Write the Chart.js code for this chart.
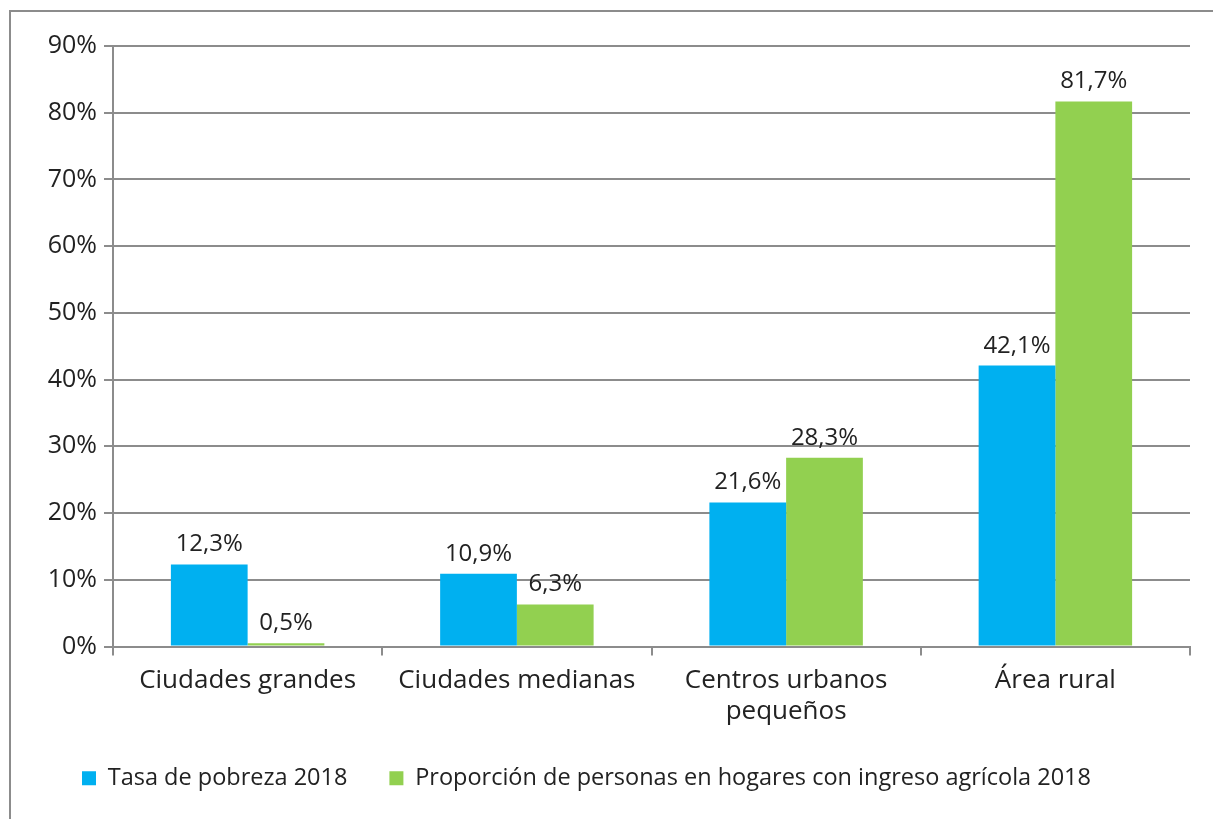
<!DOCTYPE html>
<html>
<head>
<meta charset="utf-8">
<script src="https://cdn.jsdelivr.net/npm/chart.js@4/dist/chart.umd.min.js"></script>
<style>
  body { margin: 0; background: #fff; }
  #frame {
    position: absolute; left: 9px; top: 10px; width: 1204px; height: 809px;
    border-left: 2px solid #8c8c8c; border-top: 2px solid #8c8c8c;
  }
</style>
</head>
<body>
<div id="frame"><canvas id="myChart" width="1202" height="807"></canvas></div>
<script>
const categorias = ['Ciudades grandes', 'Ciudades medianas', ['Centros urbanos', 'pequeños'], 'Área rural']
const pobreza = [12.3, 10.9, 21.6, 42.1]
const agricola = [0.5, 6.3, 28.3, 81.7]
const series = ['Tasa de pobreza 2018', 'Proporción de personas en hogares con ingreso agrícola 2018']

const fuente = '"Open Sans", sans-serif'
const gris = '#8c8c8c'
const pct = v => v.toFixed(1).replace('.', ',') + '%'

// etiquetas encima de cada barra
const etiquetas = {
  id: 'etiquetas',
  afterDatasetsDraw(chart) {
    const c = chart.ctx
    c.save()
    c.font = '24px ' + fuente
    c.fillStyle = '#222'
    c.textAlign = 'center'
    c.textBaseline = 'alphabetic'
    chart.data.datasets.forEach((ds, i) => {
      chart.getDatasetMeta(i).data.forEach((bar, j) => {
        c.fillText(pct(ds.data[j]), bar.x, bar.y - 13)
      })
    })
    c.restore()
  }
}

const ctx = document.getElementById('myChart')
new Chart(ctx, {
  type: 'bar',
  data: {
    labels: categorias,
    datasets: [
      { label: series[0], data: pobreza, backgroundColor: '#00b0f0' },
      { label: series[1], data: agricola, backgroundColor: '#92d050' }
    ]
  },
  options: {
    responsive: false,
    animation: false,
    events: [],
    layout: { padding: { top: 34, right: 23, bottom: 19, left: 29 } },
    datasets: { bar: { categoryPercentage: 0.57, barPercentage: 1 } },
    plugins: {
      tooltip: { enabled: false },
      legend: {
        position: 'bottom',
        align: 'start',
        labels: {
          font: { family: fuente, size: 23.5 },
          color: '#222',
          boxWidth: 14, boxHeight: 14,
          padding: 42
        }
      }
    },
    scales: {
      x: {
        grid: { offset: true, drawOnChartArea: false, color: gris, lineWidth: 2, tickLength: 9 },
        border: { color: gris, width: 2 },
        ticks: { font: { family: fuente, size: 26, lineHeight: 1.22 }, color: '#222', padding: 9, maxRotation: 0 },
        afterFit: s => {
          s.height = 78
          s._computeLabelArea = () => null  // no recortar la segunda línea
        }
      },
      y: {
        min: 0, max: 90,
        grid: { color: gris, lineWidth: 2, tickLength: 9 },
        border: { color: gris, width: 2 },
        ticks: { stepSize: 10, font: { family: fuente, size: 25 }, color: '#222', padding: 7, callback: v => v + '%' },
        afterFit: s => { s.width = 73 }
      }
    }
  },
  plugins: [etiquetas]
})
</script>
</body>
</html>
